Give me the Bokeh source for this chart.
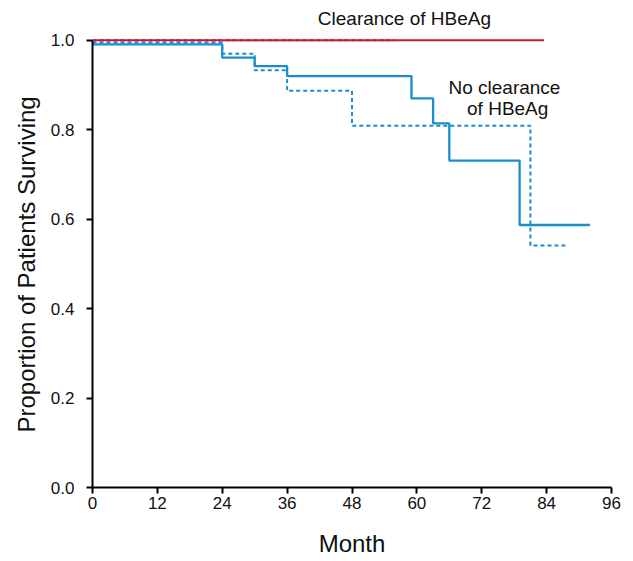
from bokeh.plotting import figure
from bokeh.models import Range1d, FixedTicker, CustomJSTickFormatter, Title
from bokeh.core.properties import value
from bokeh.embed import file_html
from bokeh.resources import INLINE

# Data
x_ticks = [0, 12, 24, 36, 48, 60, 72, 84, 96]
y_ticks = [0.0, 0.2, 0.4, 0.6, 0.8, 1.0]

clear_solid_t = [0, 83.5]
clear_solid_s = [1.0, 1.0]
clear_dash_t = [0, 56]
clear_dash_s = [1.0, 1.0]

noclear_solid_t = [0, 24, 30, 36, 59, 63, 66, 79, 92]
noclear_solid_s = [0.991, 0.961, 0.942, 0.920, 0.870, 0.814, 0.731, 0.587, 0.587]
noclear_dash_t = [0, 24, 30, 36, 48, 81, 88]
noclear_dash_s = [0.995, 0.970, 0.933, 0.887, 0.809, 0.541, 0.541]

label_texts = ["Clearance of HBeAg", "No clearance", "of HBeAg"]
label_x = [57.7, 76.2, 76.8]
label_y = [1.048, 0.894, 0.847]

x_title = "Month"
y_title = "Proportion of Patients Surviving"

RED = "#C8163C"
BLUE = "#1B8DCB"
FONT = "Liberation Sans"

p = figure(width=633, height=561, output_backend="svg", toolbar_location=None,
           x_range=Range1d(0, 96), y_range=Range1d(0, 1.08),
           min_border_left=92, min_border_right=22, min_border_top=4, min_border_bottom=74)
p.outline_line_color = None
p.xgrid.visible = False
p.ygrid.visible = False
p.background_fill_color = "white"

p.step(noclear_solid_t, noclear_solid_s, mode="after", line_color=BLUE, line_width=2.3)
p.step(noclear_dash_t, noclear_dash_s, mode="after", line_color=BLUE, line_width=2, line_dash="4 3")
p.line(clear_solid_t, clear_solid_s, line_color=RED, line_width=2)
p.line(clear_dash_t, clear_dash_s, line_color=RED, line_width=2, line_dash="4 3")

p.text(x=label_x, y=label_y, text=label_texts, text_font=value(FONT), text_font_size="19px",
       text_align="center", text_baseline="middle", text_color="#111111")

for ax in (p.xaxis[0], p.yaxis[0]):
    ax.axis_line_width = 2
    ax.axis_line_color = "black"
    ax.major_tick_line_width = 2
    ax.major_tick_line_color = "black"
    ax.minor_tick_line_color = None
    ax.major_tick_in = 0
    ax.major_tick_out = 6
    ax.major_label_text_font = FONT
    ax.major_label_text_font_size = "17px"
    ax.major_label_text_color = "#111111"
    ax.axis_label_text_font = FONT
    ax.axis_label_text_font_size = "24px"
    ax.axis_label_text_font_style = "normal"
    ax.axis_label_text_color = "#111111"

p.xaxis.ticker = FixedTicker(ticks=x_ticks)
p.yaxis.ticker = FixedTicker(ticks=y_ticks)
p.xaxis.bounds = (0, 96)
p.yaxis.bounds = (0, 1.0)
p.yaxis.formatter = CustomJSTickFormatter(code="return tick.toFixed(1);")
p.xaxis.axis_label = x_title
p.xaxis.major_label_standoff = 3
p.yaxis.major_label_standoff = 12
p.xaxis.axis_label_standoff = 18

ytitle = Title(text=y_title, align="left", offset=55,
               text_font=FONT, text_font_size="24px", text_font_style="normal",
               text_color="#111111", standoff=15)
p.add_layout(ytitle, "left")

open("out.html", "w").write(file_html(p, INLINE))
